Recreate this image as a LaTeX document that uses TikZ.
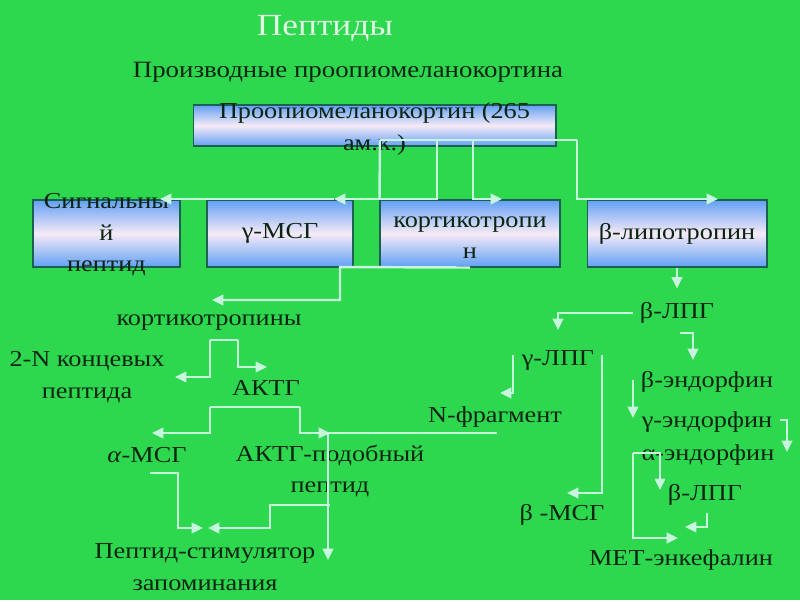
\documentclass[tikz,border=0pt]{standalone}
\usepackage{fontspec}
\setmainfont{Liberation Serif}[FakeStretch=1.15]
\usetikzlibrary{arrows.meta,positioning,calc}
\definecolor{slidegreen}{RGB}{45,215,78}
\definecolor{inkgreen}{RGB}{12,36,18}
\definecolor{titlemint}{RGB}{222,246,226}
\definecolor{linkmint}{RGB}{200,245,222}
\definecolor{boxblue}{RGB}{98,160,245}
\definecolor{boxwhite}{RGB}{246,234,246}
\definecolor{boxedge}{RGB}{28,96,84}
\newcommand{\termfont}{\fontsize{13}{18}\selectfont}

\begin{document}
\begin{tikzpicture}[x=0.02cm, y=-0.02cm,
    block/.style={rectangle, draw=boxedge, line width=0.6pt, top color=boxblue, bottom color=boxblue, middle color=boxwhite, minimum width=#1, minimum height=1.34cm, inner sep=0pt},
    term/.style={text=inkgreen, font=\termfont, align=center, inner sep=0pt},
    link/.style={draw=linkmint, line width=1.4pt},
    arrow/.style={link, -{Triangle[length=6.5pt, width=6pt]}}
]

% Slide background
\useasboundingbox (0,0) rectangle (800,600);
\fill[slidegreen] (0,0) rectangle (800,600);

% Headings
\node[text=titlemint, font=\fontsize{17.5}{20}\selectfont] (title) at (325,28) {Пептиды};
\node[term, font=\fontsize{13.3}{16}\selectfont] (subtitle) at (348,72) {Производные проопиомеланокортина};

% Precursor and first products
\node[block=7.26cm, minimum height=0.82cm, label={[term, yshift=-0.07cm]center:{Проопиомеланокортин (265\\ам.к.)}}] (pomc) at (374.5,125.5) {};
\node[block=2.94cm, label={[term, yshift=-0.03cm]center:{Сигнальны\\й\\пептид}}] (signal) at (106.5,233.5) {};
\node[block=2.92cm, label={[term]center:γ-МСГ}] (gmsh) at (280,233.5) {};
\node[block=3.6cm, label={[term, yshift=-0.08cm]center:{кортикотропи\\н}}] (cortico) at (470,233.5) {};
\node[block=3.6cm, label={[term]center:β-липотропин}] (blph) at (677,233.5) {};

% Left branch
\node[term] (corticos) at (209,323) {кортикотропины};
\node[term] (nterm) at (87,377) {2-N концевых\\пептида};
\node[term] (acth) at (266,388) {АКТГ};
\node[term] (amsh) at (147,455) {\textit{α}-МСГ};
\node[term] (clip) at (330,471) {АКТГ-подобный\\пептид};
\node[term] (memory) at (205,567) {Пептид-стимулятор\\запоминания};

% Right branch
\node[term] (blpg) at (677,313) {β-ЛПГ};
\node[term] (glpg) at (558,360) {γ-ЛПГ};
\node[term] (bend) at (707,382) {β-эндорфин};
\node[term] (nfrag) at (495,417) {N-фрагмент};
\node[term] (gend) at (707,422) {γ-эндорфин};
\node[term] (aend) at (708,455) {α-эндорфин};
\node[term] (blpg2) at (705,495) {β-ЛПГ};
\node[term] (bmsh) at (562,515) {β -МСГ};
\node[term] (metenk) at (681,560) {МЕТ-энкефалин};

% Split of the precursor
\coordinate (fork) at (380,140);
\coordinate (forkR) at (577,140);
\draw[link] (fork) -- (forkR);
\draw[link] (fork) -- (cortico.north west);
\draw[arrow] (437,140) |- (334,199) coordinate (gmshIn);
\draw[arrow] (gmshIn) -- (160,199);
\draw[arrow] (473,140) |- (502,199);
\draw[arrow] (forkR) |- (718,199);

% Corticotropin line
\draw[arrow] (cortico.south) -- (340,267) |- (212,300);
\draw[link] (210,340) -- (238,340);
\draw[arrow] (210,340) |- (175,377);
\draw[arrow] (238,340) |- (267,367);
\draw[link] (210,407) -- (300,407);
\draw[arrow] (210,407) |- (152,433);
\draw[arrow] (300,407) |- (330,433);
\draw[arrow] (497,433) -| (328,560);
\draw[arrow] (150,473) -| (178,528) -- (203,528);
\draw[arrow] (330,505) -| (270,528) -- (208,528);

% Lipotropin line
\draw[arrow] (blph.south) -- ++(0,21);
\draw[arrow] (633,313) -| (558,330);
\draw[arrow] (680,333) -| (693,360);
\draw[arrow] (513,355) |- (500,393);
\draw[arrow] (602,355) |- (567,493);
\draw[arrow] (633,380) -- (633,418);
\draw[arrow] (780,420) -| (787,452);
\draw[arrow] (633,453) -| (660,490);
\draw[arrow] (633,453) |- (678,538);
\draw[arrow] (707,513) |- (685,527);

\end{tikzpicture}
\end{document}
